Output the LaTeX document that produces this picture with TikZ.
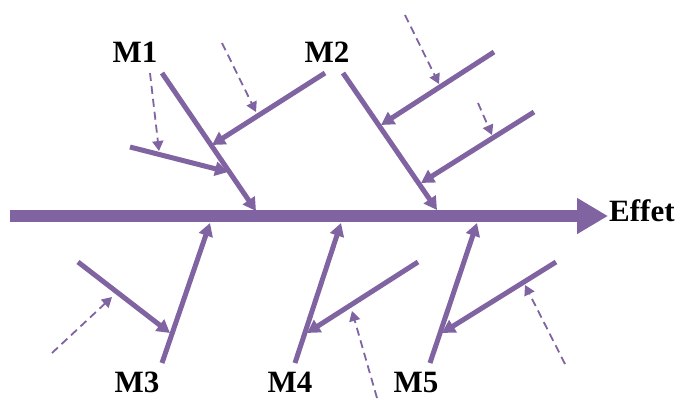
\documentclass[tikz,border=0pt]{standalone}
\usepackage{fontspec}
\setmainfont{Liberation Serif}
\usetikzlibrary{arrows.meta}
\definecolor{fishpurple}{RGB}{128,100,162}
\tikzset{
  spine/.style={draw=fishpurple, line width=12pt, -{Triangle[length=31pt,width=34pt]}},
  bone/.style={draw=fishpurple, line width=5pt, -{Triangle[length=13pt,width=14pt]}},
  cause/.style={draw=fishpurple, line width=1.8pt, dash pattern=on 8pt off 5pt, -{Triangle[length=10pt,width=11pt]}},
  lbl/.style={font=\fontsize{31}{31}\selectfont\bfseries, inner sep=0pt}
}
\begin{document}
\begin{tikzpicture}[x=1pt,y=-1pt]
\useasboundingbox (0,0) rectangle (680,399);
% labels
\node[lbl] (m1) at (135,52) {M1};
\node[lbl] (m2) at (327,52) {M2};
\node[lbl] (m3) at (137,382) {M3};
\node[lbl] (m4) at (290,382) {M4};
\node[lbl] (m5) at (416,382) {M5};
% spine
\coordinate (s0) at (10,216);
\coordinate (s1) at (608,216);
\draw[spine] (s0) -- (s1);
\node[lbl, anchor=west] (eff) at (609,211) {Effet};
% M1
\coordinate (b1s) at (162,73);  \coordinate (b1e) at (256,211);
\coordinate (a1s) at (130,147); \coordinate (a1e) at (228,172);
\coordinate (c1s) at (325,73);  \coordinate (c1e) at (212,145);
\coordinate (d1s) at (150,73);  \coordinate (d1e) at (159,151);
\coordinate (e1s) at (222,43);  \coordinate (e1e) at (256,112);
\draw[bone] (b1s) -- (b1e);
\draw[bone] (a1s) -- (a1e);
\draw[bone] (c1s) -- (c1e);
\draw[cause] (d1s) -- (d1e);
\draw[cause] (e1s) -- (e1e);
% M2
\coordinate (b2s) at (343,73);  \coordinate (b2e) at (437,210);
\coordinate (a2s) at (494,52);  \coordinate (a2e) at (381,125);
\coordinate (c2s) at (534,112); \coordinate (c2e) at (421,183);
\coordinate (d2s) at (405,15);  \coordinate (d2e) at (439,84);
\coordinate (e2s) at (478,103); \coordinate (e2e) at (492,135);
\draw[bone] (b2s) -- (b2e);
\draw[bone] (a2s) -- (a2e);
\draw[bone] (c2s) -- (c2e);
\draw[cause] (d2s) -- (d2e);
\draw[cause] (e2s) -- (e2e);
% M3
\coordinate (b3s) at (162,363); \coordinate (b3e) at (210,223);
\coordinate (a3s) at (78,262);  \coordinate (a3e) at (170,333);
\coordinate (d3s) at (52,353);  \coordinate (d3e) at (112,297);
\draw[bone] (b3s) -- (b3e);
\draw[bone] (a3s) -- (a3e);
\draw[cause] (d3s) -- (d3e);
% M4
\coordinate (b4s) at (295,363); \coordinate (b4e) at (341,223);
\coordinate (a4s) at (418,262); \coordinate (a4e) at (307,333);
\coordinate (d4s) at (377,398); \coordinate (d4e) at (352,311);
\draw[bone] (b4s) -- (b4e);
\draw[bone] (a4s) -- (a4e);
\draw[cause] (d4s) -- (d4e);
% M5
\coordinate (b5s) at (430,363); \coordinate (b5e) at (477,223);
\coordinate (a5s) at (556,262); \coordinate (a5e) at (442,333);
\coordinate (d5s) at (565,364); \coordinate (d5e) at (525,285);
\draw[bone] (b5s) -- (b5e);
\draw[bone] (a5s) -- (a5e);
\draw[cause] (d5s) -- (d5e);
\end{tikzpicture}
\end{document}
